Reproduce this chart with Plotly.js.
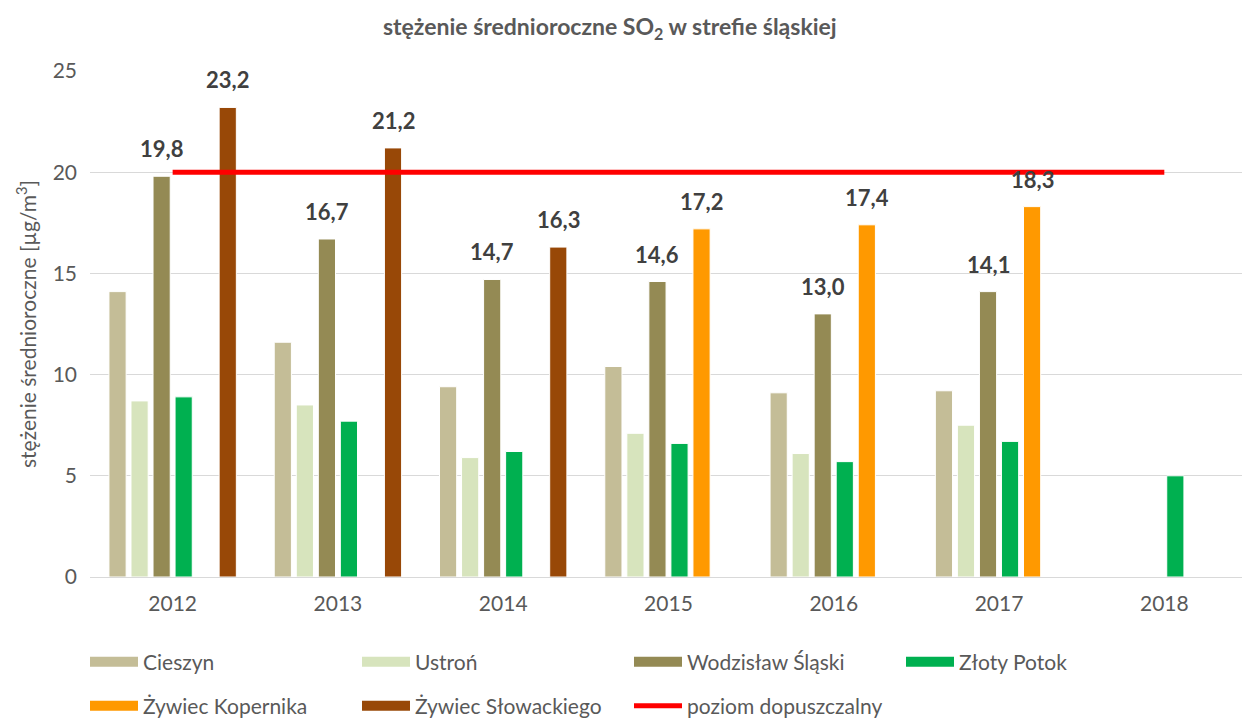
<!DOCTYPE html>
<html>
<head>
<meta charset="utf-8">
<script src="https://cdn.plot.ly/plotly-3.0.1.min.js"></script>
<style>body{margin:0;background:#fff}</style>
</head>
<body>
<div id="chart" style="width:1242px;height:720px"></div>
<script>
// dane: stężenie średnioroczne SO2 (µg/m3)
var lata = ["2012", "2013", "2014", "2015", "2016", "2017", "2018"];
var cieszyn = [14.1, 11.6, 9.4, 10.4, 9.1, 9.2, null];
var ustron = [8.7, 8.5, 5.9, 7.1, 6.1, 7.5, null];
var wodzislaw = [19.8, 16.7, 14.7, 14.6, 13.0, 14.1, null];
var zlotyPotok = [8.9, 7.7, 6.2, 6.6, 5.7, 6.7, 5.0];
var zywiecKopernika = [null, null, null, 17.2, 17.4, 18.3, null];
var zywiecSlowackiego = [23.2, 21.2, 16.3, null, null, null, null];
var poziomDopuszczalny = [20, 20, 20, 20, 20, 20, 20];

var szary = "#595959";
var czcionka = "Lato, 'Open Sans', sans-serif";

var serie = [
    {name: "Cieszyn", y: cieszyn, color: "#C4BD97", legend: "legend", labels: false},
    {name: "Ustroń", y: ustron, color: "#D7E4BD", legend: "legend", labels: false},
    {name: "Wodzisław Śląski", y: wodzislaw, color: "#948A54", legend: "legend", labels: true},
    {name: "Złoty Potok", y: zlotyPotok, color: "#00B050", legend: "legend", labels: false},
    {name: "Żywiec Kopernika", y: zywiecKopernika, color: "#FF9900", legend: "legend2", labels: true},
    {name: "Żywiec Słowackiego", y: zywiecSlowackiego, color: "#984807", legend: "legend2", labels: true}
];

var bargap = 0.2;
var xRange = [-0.5, 6.47];
var plotLeft = 90, plotWidth = 1242 - 90;
var slot = plotWidth / (xRange[1] - xRange[0]) * (1 - bargap) / serie.length;

var data = [];
var annotations = [];
serie.forEach(function (s, i) {
    data.push({
        type: "bar",
        name: s.name,
        x: lata,
        y: s.y,
        showlegend: false,
        marker: {color: s.color, line: {color: "#ffffff", width: 1}}
    });
    // etykiety wartości nad słupkami
    if (s.labels) {
        var shift = (i - (serie.length - 1) / 2) * slot;
        s.y.forEach(function (v, j) {
            if (v === null) return;
            annotations.push({
                x: j, y: v, xref: "x", yref: "y",
                text: "<b>" + v.toFixed(1).replace(".", ",") + "</b>",
                showarrow: false, xshift: shift, yshift: 12, yanchor: "bottom",
                font: {family: czcionka, size: 22, color: "#404040"}
            });
        });
    }
});

// wpisy legendy (szerokie prostokąty jak w Excelu)
serie.forEach(function (s) {
    data.push({
        type: "scatter", mode: "lines", name: s.name,
        x: [null], y: [null], legend: s.legend,
        line: {color: s.color, width: 15}, hoverinfo: "skip"
    });
});

data.push({
    type: "scatter",
    mode: "lines",
    name: "poziom dopuszczalny",
    x: lata,
    y: poziomDopuszczalny,
    legend: "legend2",
    line: {color: "#FF0000", width: 5}
});

var legendaBaza = {
    orientation: "h",
    xref: "container", yref: "container",
    x: 85 / 1242,
    xanchor: "left", yanchor: "middle",
    entrywidth: 209, entrywidthmode: "pixels",
    font: {size: 21, color: szary},
    itemwidth: 48,
    traceorder: "normal"
};

var layout = {
    width: 1242,
    height: 720,
    margin: {l: plotLeft, r: 0, t: 71, b: 143},
    paper_bgcolor: "#ffffff",
    plot_bgcolor: "#ffffff",
    separators: ", ",
    font: {family: czcionka, color: szary, size: 18},
    title: {
        text: "<b>stężenie średnioroczne SO<sub>2</sub> w strefie śląskiej</b>",
        x: 0.491, xanchor: "center", y: 0.962, yanchor: "middle",
        font: {family: czcionka, size: 23, color: szary}
    },
    barmode: "group",
    bargap: bargap,
    bargroupgap: 0.22,
    xaxis: {
        type: "category",
        range: xRange,
        showgrid: false,
        showline: false,
        ticks: "",
        tickfont: {size: 21, color: szary},
        ticklabelstandoff: 12
    },
    yaxis: {
        range: [0, 25],
        dtick: 5,
        showgrid: true,
        gridcolor: "#D9D9D9",
        gridwidth: 1,
        zeroline: true,
        zerolinecolor: "#D9D9D9",
        zerolinewidth: 1,
        showline: false,
        ticks: "",
        tickfont: {size: 21, color: szary},
        ticklabelstandoff: 12,
        title: {
            text: "stężenie średnioroczne [µg/m<sup>3</sup>]",
            font: {size: 21, color: szary},
            standoff: 10
        }
    },
    showlegend: true,
    legend: Object.assign({}, legendaBaza, {y: 1 - 662 / 720}),
    legend2: Object.assign({}, legendaBaza, {y: 1 - 706 / 720}),
    annotations: annotations
};

Plotly.newPlot("chart", data, layout, {displayModeBar: false, staticPlot: true});
</script>
</body>
</html>
